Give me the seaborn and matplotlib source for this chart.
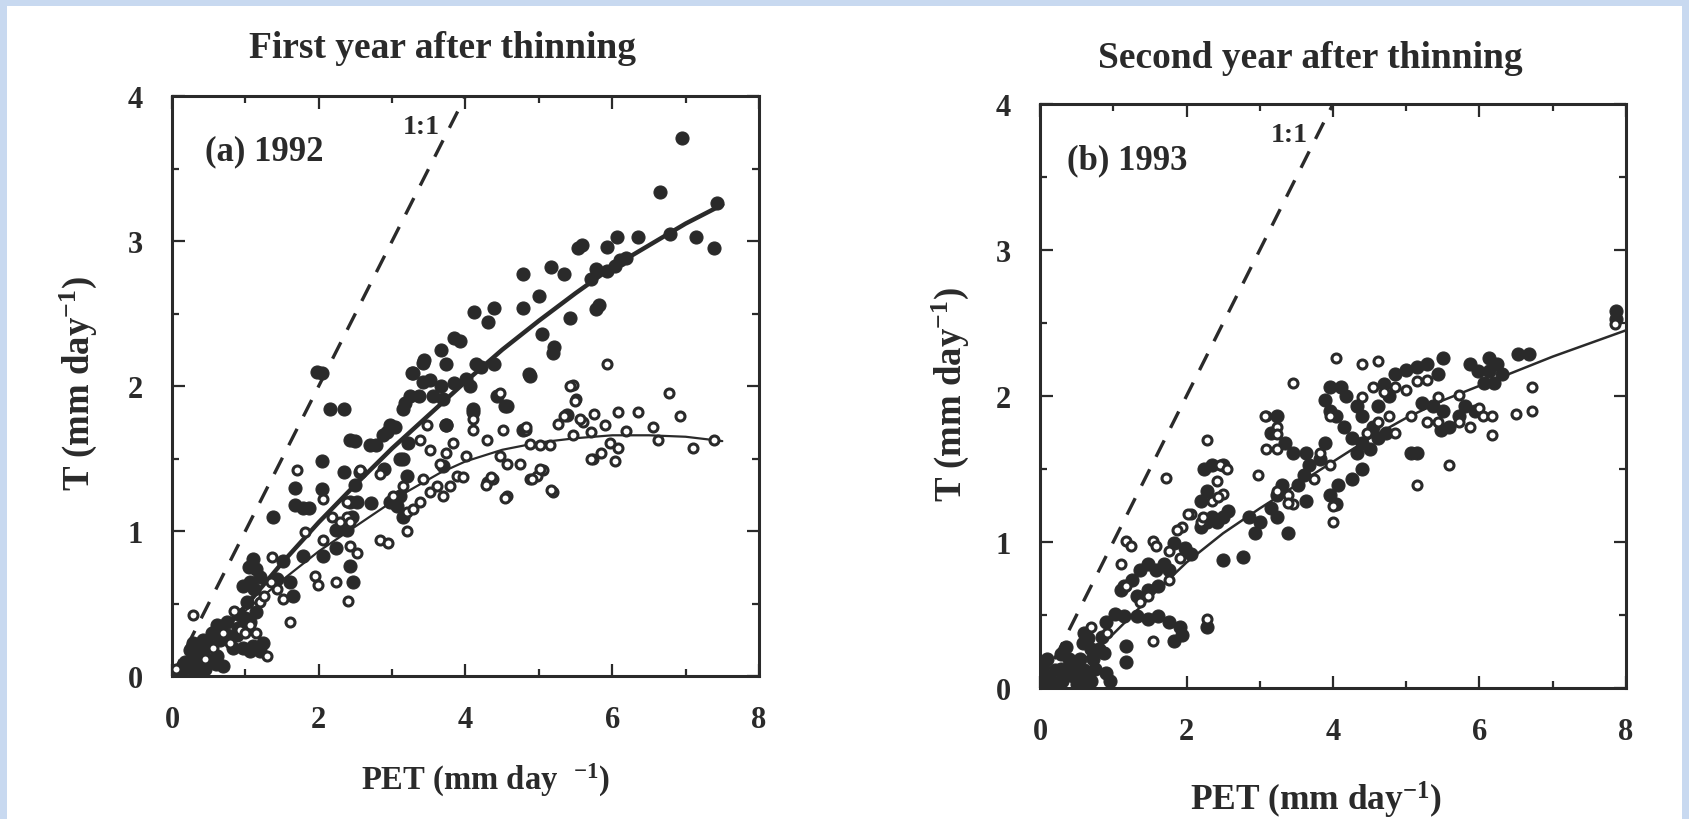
import numpy as np
import pandas as pd
import matplotlib
matplotlib.use("Agg")
import matplotlib.pyplot as plt
from matplotlib.patches import Rectangle
from matplotlib.ticker import MultipleLocator
import seaborn as sns

# ---------------- data ----------------
# Panel (a) 1992 : filled circles
a_fill_pet = [6.95, 6.65, 7.43, 7.14, 7.39, 6.79, 6.35, 6.06, 5.93, 5.53, 5.59, 5.16, 4.79, 5.34,
              5.00, 4.79, 4.39, 4.30, 4.11, 5.42, 5.82, 5.78, 6.11, 6.19, 5.93, 5.78, 5.71, 6.04,
              5.20, 5.04, 4.87, 4.54, 4.43, 4.39, 4.21, 4.14, 4.06, 3.92, 3.84, 3.66, 3.73, 3.44,
              3.27, 3.51, 3.66, 3.84, 3.73, 4.10, 3.37, 3.18, 3.04, 2.93, 2.78, 3.22, 3.11, 2.89,
              1.98, 2.05, 2.16, 2.34, 2.42, 2.49, 2.05, 2.34, 1.68, 2.05, 1.68, 1.79, 1.87, 1.38,
              2.56, 2.49, 2.71, 2.45, 2.34,
              1.10, 1.15, 1.06, 1.02, 1.15, 1.06, 0.93, 0.75, 0.61, 0.88, 1.51, 1.61, 1.65, 1.43,
              1.79, 2.06, 2.24, 2.38, 2.43, 2.52, 2.24, 2.43, 2.47, 2.70, 2.88, 2.97, 3.15, 3.24,
              3.42, 3.56, 3.69, 3.42, 3.28, 4.01, 4.10, 4.56, 4.88, 3.11, 3.06, 3.15, 2.97, 3.20,
              3.15, 3.74, 3.69, 4.78, 5.38, 5.19,
              0.70, 0.61, 0.52, 0.38, 0.25, 0.15, 0.34, 0.47, 0.29, 0.83, 0.97, 1.10, 1.24, 1.06,
              1.20, 0.05, 0.20, 0.42,
              0.10, 0.18, 0.25, 0.35, 0.42, 0.55, 0.65, 0.75, 0.90, 1.00, 1.12, 1.20, 1.05, 0.97,
              0.30, 0.45, 0.60]
a_fill_t = [3.71, 3.34, 3.26, 3.03, 2.95, 3.05, 3.03, 3.03, 2.96, 2.95, 2.97, 2.82, 2.77, 2.77,
            2.62, 2.54, 2.54, 2.44, 2.51, 2.47, 2.56, 2.53, 2.87, 2.88, 2.79, 2.81, 2.74, 2.83,
            2.27, 2.36, 2.08, 1.86, 1.93, 2.15, 2.13, 2.15, 2.00, 2.31, 2.33, 2.25, 2.15, 2.18,
            2.09, 2.04, 2.00, 2.02, 1.73, 1.84, 1.93, 1.88, 1.72, 1.68, 1.59, 1.61, 1.50, 1.43,
            2.10, 2.09, 1.84, 1.84, 1.63, 1.62, 1.48, 1.41, 1.30, 1.29, 1.18, 1.16, 1.16, 1.10,
            1.41, 1.32, 1.19, 1.10, 1.03,
            0.81, 0.74, 0.65, 0.51, 0.44, 0.37, 0.42, 0.37, 0.35, 0.28, 0.79, 0.65, 0.55, 0.67,
            0.83, 0.83, 0.88, 1.01, 1.20, 1.20, 1.01, 0.76, 0.65, 1.59, 1.66, 1.73, 1.84, 1.93,
            2.03, 1.93, 1.91, 2.16, 2.09, 2.05, 1.82, 1.86, 2.07, 1.24, 1.17, 1.10, 1.20, 1.38,
            1.50, 1.73, 1.45, 1.70, 1.80, 2.23,
            0.07, 0.14, 0.21, 0.19, 0.10, 0.05, 0.05, 0.12, 0.23, 0.19, 0.19, 0.21, 0.23, 0.17,
            0.17, 0.02, 0.08, 0.15,
            0.03, 0.10, 0.18, 0.12, 0.25, 0.30, 0.25, 0.28, 0.33, 0.40, 0.60, 0.68, 0.75, 0.62,
            0.02, 0.05, 0.08]

# Panel (a) 1992 : open circles
a_open_pet = [0.29, 1.36, 1.95, 1.99, 2.24, 2.40, 2.83, 2.94, 3.20, 2.52, 2.43, 2.38, 2.06, 2.18,
              2.38, 2.56, 1.70, 1.81, 2.83, 3.01, 3.20, 3.15, 3.42, 3.51, 3.61, 3.69, 3.79, 3.88,
              3.97, 3.38, 3.28, 3.47, 3.38, 3.51, 3.65, 3.74, 3.83, 4.01, 4.29, 4.51, 4.47, 4.10,
              4.10, 4.29, 4.38, 4.56, 4.47, 4.56, 4.74, 4.88, 5.01, 5.15, 4.88, 4.97, 5.05, 5.19,
              4.83, 5.46, 5.51, 5.60, 5.74, 5.46, 1.51, 1.43, 1.61, 1.20, 1.06, 1.15, 0.93, 1.29,
              0.79, 0.56, 0.06, 2.06, 2.43, 2.29,
              5.93, 5.42, 5.49, 6.77, 6.93, 6.35, 6.08, 5.75, 5.56, 5.34, 6.55, 6.19, 5.90, 5.71,
              6.62, 7.10, 7.39, 6.08, 5.97, 5.71, 5.84, 6.04, 5.26, 4.83, 5.16, 5.01, 4.90, 4.54,
              4.28, 4.35,
              0.45, 0.70, 0.85, 1.00, 1.25, 1.35]
a_open_t = [0.42, 0.82, 0.69, 0.63, 0.65, 0.52, 0.94, 0.92, 1.00, 0.85, 0.90, 1.10, 0.94, 1.10,
            1.20, 1.42, 1.42, 0.99, 1.39, 1.24, 1.13, 1.31, 1.36, 1.27, 1.31, 1.24, 1.31, 1.38,
            1.37, 1.20, 1.15, 1.73, 1.63, 1.56, 1.46, 1.54, 1.61, 1.52, 1.63, 1.70, 1.95, 1.77,
            1.70, 1.34, 1.36, 1.24, 1.52, 1.46, 1.46, 1.60, 1.59, 1.59, 1.36, 1.38, 1.42, 1.27,
            1.70, 2.01, 1.91, 1.75, 1.50, 1.66, 0.53, 0.60, 0.37, 0.51, 0.35, 0.30, 0.32, 0.14,
            0.23, 0.19, 0.05, 1.22, 1.06, 1.06,
            2.15, 2.00, 1.90, 1.95, 1.79, 1.82, 1.82, 1.81, 1.77, 1.79, 1.72, 1.69, 1.73, 1.68,
            1.63, 1.57, 1.63, 1.57, 1.61, 1.50, 1.54, 1.48, 1.74, 1.72, 1.28, 1.43, 1.36, 1.23,
            1.32, 1.37,
            0.12, 0.30, 0.45, 0.30, 0.55, 0.65]

# Panel (a) fitted curves
a_fit_fill_pet = [0.0, 0.5, 1.0, 1.5, 2.0, 2.5, 3.0, 3.5, 4.0, 4.5, 5.0, 5.5, 6.0, 6.5, 7.0, 7.5]
a_fit_fill_t = [0.02, 0.24, 0.48, 0.78, 1.06, 1.32, 1.57, 1.80, 2.03, 2.25, 2.45, 2.64, 2.82, 2.97, 3.12, 3.25]
a_fit_open_pet = [0.0, 0.5, 1.0, 1.5, 2.0, 2.7, 3.2, 3.65, 4.0, 4.5, 5.0, 5.5, 6.0, 6.5, 7.0, 7.5]
a_fit_open_t = [0.02, 0.23, 0.45, 0.66, 0.86, 1.10, 1.27, 1.40, 1.48, 1.56, 1.61, 1.64, 1.66, 1.66, 1.65, 1.62]

# Panel (b) 1993 : filled circles
b_fill_pet = [7.87, 7.87, 6.53, 6.68, 6.13, 6.24, 6.13, 5.98, 6.06, 6.20, 6.31, 5.87, 5.50, 5.43,
              5.28, 5.14, 4.99, 4.84, 4.70, 4.77, 4.62, 5.21, 5.36, 5.50, 5.72, 5.80, 5.94, 5.58,
              5.47, 5.14, 5.06, 4.73, 4.62, 4.55, 4.40, 4.33, 4.18, 4.11, 3.96, 3.89, 3.96, 4.04,
              4.15, 4.26, 4.40, 4.51, 4.33, 3.23, 3.16, 3.34, 3.45, 3.63, 3.67, 3.60, 3.52, 3.82,
              3.89, 4.40, 4.26, 4.07, 3.96, 4.04, 3.30, 3.23, 3.16, 3.23, 3.38, 3.63, 3.01, 2.94,
              2.86, 2.77, 2.50, 2.42, 2.50, 2.57, 2.35, 2.28, 2.20, 2.20, 2.28, 2.24, 2.35, 2.50,
              1.83, 1.98, 2.06, 1.76, 1.69, 1.58, 1.47, 1.36, 1.25, 1.14, 1.10, 1.32, 1.47, 1.61,
              1.03, 1.14, 1.32, 1.47, 1.61, 1.76, 1.91, 1.94, 1.83, 1.17, 1.17, 2.28,
              0.04, 0.07, 0.15, 0.22, 0.29, 0.37, 0.44, 0.51, 0.59, 0.66, 0.73, 0.81, 0.88, 0.59,
              0.66, 0.70, 0.29, 0.50, 0.85,
              0.10, 0.05, 0.20, 0.30, 0.40, 0.45, 0.55, 0.60, 0.70, 0.75, 0.90, 0.95, 0.35, 0.60,
              0.90]
b_fill_t = [2.58, 2.53, 2.29, 2.29, 2.26, 2.22, 2.17, 2.17, 2.09, 2.09, 2.15, 2.22, 2.26, 2.15,
            2.22, 2.20, 2.18, 2.15, 2.08, 2.00, 1.93, 1.95, 1.93, 1.90, 1.86, 1.93, 1.90, 1.79,
            1.77, 1.61, 1.61, 1.75, 1.71, 1.79, 1.86, 1.93, 2.00, 2.06, 2.06, 1.97, 1.90, 1.86,
            1.79, 1.71, 1.68, 1.64, 1.61, 1.86, 1.75, 1.68, 1.61, 1.61, 1.53, 1.46, 1.39, 1.57,
            1.68, 1.50, 1.43, 1.39, 1.32, 1.26, 1.39, 1.32, 1.23, 1.17, 1.06, 1.28, 1.14, 1.06,
            1.17, 0.90, 0.88, 1.14, 1.17, 1.21, 1.17, 1.14, 1.10, 1.28, 1.35, 1.50, 1.53, 1.53,
            0.99, 0.96, 0.92, 0.81, 0.85, 0.81, 0.85, 0.81, 0.74, 0.70, 0.67, 0.63, 0.67, 0.70,
            0.51, 0.49, 0.49, 0.47, 0.49, 0.45, 0.42, 0.36, 0.32, 0.29, 0.18, 0.42,
            0.16, 0.09, 0.05, 0.02, 0.13, 0.09, 0.16, 0.13, 0.05, 0.09, 0.20, 0.27, 0.24, 0.31,
            0.34, 0.27, 0.23, 0.03, 0.35,
            0.20, 0.05, 0.12, 0.05, 0.20, 0.08, 0.20, 0.12, 0.05, 0.13, 0.10, 0.05, 0.28, 0.38,
            0.45]

# Panel (b) 1993 : open circles
b_open_pet = [7.85, 4.04, 4.40, 4.62, 3.45, 6.72, 6.72, 6.50, 6.17, 5.58, 5.14, 4.00, 4.00, 2.28,
              1.72, 2.97, 1.17, 1.24, 1.54, 1.58, 1.76, 1.10, 0.70, 0.92, 1.54, 2.28, 3.08, 3.23,
              3.23, 4.40, 4.55, 4.70, 4.84, 4.99, 5.14, 5.28, 5.43, 5.72, 6.00, 6.05, 6.17, 5.87,
              5.72, 5.43, 5.28, 5.06, 4.84, 4.77, 4.62, 4.47, 3.96, 3.82, 3.96, 3.74, 3.45, 3.38,
              3.23, 2.50, 2.42, 2.35, 2.20, 2.06, 1.94, 1.91, 1.76, 1.47, 1.36, 1.17, 2.02, 1.87,
              2.23, 2.46, 2.55, 2.43, 3.07, 3.09, 3.23, 3.39]
b_open_t = [2.49, 2.26, 2.22, 2.24, 2.09, 2.06, 1.90, 1.88, 1.73, 1.53, 1.39, 1.14, 1.25, 1.70,
            1.44, 1.46, 1.01, 0.97, 1.01, 0.97, 0.94, 0.85, 0.42, 0.38, 0.32, 0.47, 1.86, 1.79,
            1.64, 1.99, 2.06, 2.03, 2.06, 2.04, 2.10, 2.11, 1.99, 2.01, 1.92, 1.86, 1.86, 1.79,
            1.82, 1.82, 1.82, 1.86, 1.75, 1.86, 1.82, 1.75, 1.86, 1.61, 1.53, 1.43, 1.26, 1.32,
            1.35, 1.33, 1.42, 1.28, 1.14, 1.19, 1.10, 0.89, 0.74, 0.63, 0.59, 0.70, 1.19, 1.08,
            1.17, 1.53, 1.50, 1.31, 1.86, 1.64, 1.74, 1.27]

# Panel (b) fitted curve
b_fit_pet = [0.0, 0.5, 1.0, 1.5, 2.0, 2.5, 3.0, 3.5, 4.0, 4.5, 5.0, 5.5, 6.0, 6.5, 7.0, 7.5, 8.0]
b_fit_t = [0.0, 0.15, 0.37, 0.62, 0.86, 1.06, 1.23, 1.39, 1.55, 1.71, 1.85, 1.97, 2.07, 2.17, 2.27, 2.36, 2.45]

one_to_one = [0.0, 4.0]

# text
titles = ["First year after thinning", "Second year after thinning"]
panel_labels = ["(a) 1992", "(b) 1993"]
xlabels = ["PET (mm day  $^{-1}$)", "PET (mm day$^{-1}$)"]
ylabel = "T (mm day$^{-1}$)"
xticks = [0, 2, 4, 6, 8]
yticks = [0, 1, 2, 3, 4]

# ---------------- style ----------------
sns.set_style("ticks")
INK = "#2a2a2a"
plt.rcParams["font.family"] = ["Liberation Serif", "DejaVu Serif"]
plt.rcParams["font.weight"] = "bold"
plt.rcParams["mathtext.fontset"] = "custom"
plt.rcParams["mathtext.rm"] = "Liberation Serif:bold"
plt.rcParams["mathtext.it"] = "Liberation Serif:bold"
plt.rcParams["mathtext.bf"] = "Liberation Serif:bold"
plt.rcParams["text.color"] = INK
plt.rcParams["axes.labelcolor"] = INK

W, H = 1690, 820
fig = plt.figure(figsize=(W / 100, H / 100), dpi=100)
fig.patch.set_facecolor("#c8d9f0")
fig.add_artist(Rectangle((7 / W, 0), 1 - 15 / W, 1 - 7 / H, transform=fig.transFigure,
                         facecolor="white", edgecolor="none", zorder=-10))

boxes = [(172, 97, 587, 580), (1040, 105, 586, 584)]
axes = []
for (l, t, w, h) in boxes:
    axes.append(fig.add_axes([l / W, 1 - (t + h) / H, w / W, h / H]))

panels = [
    (a_fill_pet, a_fill_t, a_open_pet, a_open_t,
     [(a_fit_fill_pet, a_fit_fill_t, 3.2), (a_fit_open_pet, a_fit_open_t, 1.6)]),
    (b_fill_pet, b_fill_t, b_open_pet, b_open_t,
     [(b_fit_pet, b_fit_t, 1.8)]),
]

for i, (ax, (fx, fy, ox, oy, fits)) in enumerate(zip(axes, panels)):
    ax.set_facecolor("white")
    sns.lineplot(x=one_to_one, y=one_to_one, ax=ax, color=INK, lw=2.4,
                 zorder=2).lines[-1].set_dashes((5.5, 4.2))
    sns.scatterplot(x=fx, y=fy, ax=ax, s=88, color=INK, edgecolor=INK,
                    linewidth=0.8, zorder=3)
    for (cx, cy, lw) in fits:
        sns.lineplot(x=cx, y=cy, ax=ax, color=INK, lw=lw, sort=False,
                     estimator=None, zorder=4)
    sns.scatterplot(x=ox, y=oy, ax=ax, s=42, color="white", edgecolor=INK,
                    linewidth=2.2, zorder=5)

    ax.set_xlim(0, 8)
    ax.set_ylim(0, 4)
    ax.set_xticks(xticks)
    ax.set_yticks(yticks)
    ax.xaxis.set_minor_locator(MultipleLocator(1))
    ax.yaxis.set_minor_locator(MultipleLocator(0.5))
    ax.tick_params(which="both", direction="in", top=True, right=True,
                   color=INK, width=1.6)
    ax.tick_params(which="major", length=9, labelsize=22, pad=21, labelcolor=INK)
    ax.tick_params(which="minor", length=5)
    for sp in ax.spines.values():
        sp.set_linewidth(2.2)
        sp.set_color(INK)
    ax.set_xlabel("")
    ax.set_ylabel("")
    ax.text(0.45 if i == 0 else 0.37, 3.62, panel_labels[i], fontsize=25,
            fontweight="bold", ha="left", va="center", color=INK)
    ax.text(3.4, 3.79, "1:1", fontsize=20, fontweight="bold", ha="center",
            va="center", color=INK)

# titles and axis labels in figure pixels
def ftext(x, y, s, **kw):
    fig.text(x / W, 1 - y / H, s, ha="center", va="center", color=INK,
             fontweight="bold", **kw)

ftext(443, 48, titles[0], fontsize=27)
ftext(1310, 59, titles[1], fontsize=27)
ftext(485, 780, xlabels[0], fontsize=23.5)
ftext(1316, 800, xlabels[1], fontsize=25.5)
ftext(78, 384, ylabel, fontsize=26.5, rotation=90)
ftext(950, 395, ylabel, fontsize=26.5, rotation=90)

fig.savefig("out.png", dpi=100, facecolor=fig.get_facecolor())
